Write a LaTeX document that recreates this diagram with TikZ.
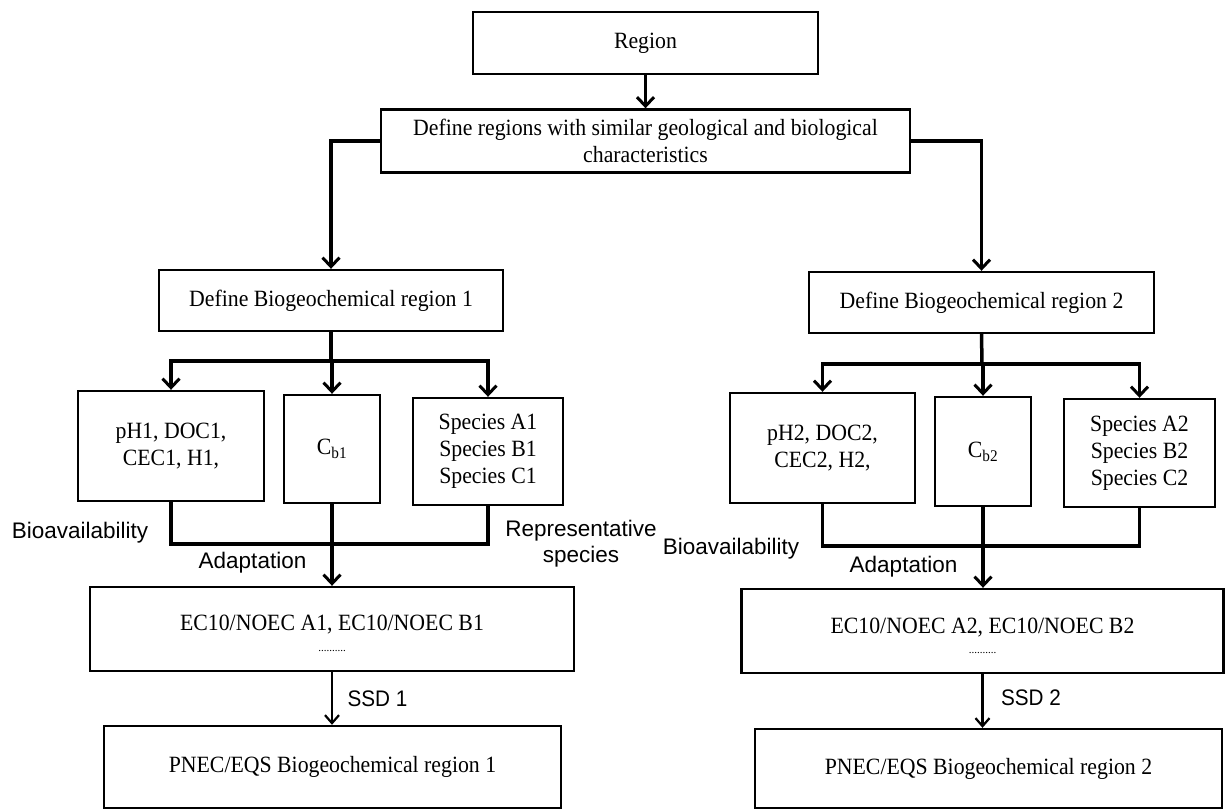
\documentclass[tikz,border=0pt]{standalone}
\usepackage{fontspec}
\setmainfont{Liberation Serif}
\setsansfont{Liberation Sans}
\newfontfamily\boxfont[FakeStretch=0.935]{Liberation Serif}
\newfontfamily\ssdfont[FakeStretch=0.92]{Liberation Sans}
\usetikzlibrary{arrows.meta}
\begin{document}
\begin{tikzpicture}[x=1pt,y=-1pt,
  box/.style={draw, line width=2.4pt, inner sep=0pt, align=center, font=\boxfont\fontsize{23.3}{27}\selectfont},
  conn/.style={line width=3.5pt},
  arr/.style={conn, -{Straight Barb[length=9pt,width=17pt,line width=3pt]}},
  thinarr/.style={line width=2.2pt, -{Straight Barb[length=8pt,width=14pt,line width=2.2pt]}},
  lab/.style={font=\sffamily\fontsize{22.5}{26}\selectfont, align=center, inner sep=0pt},
  ssdlab/.style={font=\ssdfont\fontsize{22.5}{26}\selectfont, inner sep=0pt},
  txt/.style={font=\boxfont\fontsize{23.3}{27}\selectfont, inner sep=0pt},
  dotsl/.style={font=\fontsize{11}{11}\selectfont, inner sep=0pt}]
\useasboundingbox (0,0) rectangle (1226,809);

% boxes
\node[box, minimum width=345, minimum height=62] (region) at (645.5,43) {Region};
\node[box, minimum width=529, minimum height=63] (define) at (645.5,141) {Define regions with similar geological and biological\\characteristics};
\node[box, minimum width=344, minimum height=61] (bio1) at (331,300.5) {Define Biogeochemical region 1};
\node[box, minimum width=345, minimum height=61] (bio2) at (981.5,302.5) {Define Biogeochemical region 2};

\node[box, minimum width=186, minimum height=110] (ph1) at (171,446) {pH1, DOC1,\\CEC1, H1,};
\node[box, minimum width=96, minimum height=108] (cb1) at (332,449) {C\textsubscript{b1}};
\node[box, minimum width=150, minimum height=107] (sp1) at (488,451.5) {Species A1\\Species B1\\Species C1};

\node[box, minimum width=185, minimum height=110] (ph2) at (822.5,448) {pH2, DOC2,\\CEC2, H2,};
\node[box, minimum width=96, minimum height=109] (cb2) at (983,451.5) {C\textsubscript{b2}};
\node[box, minimum width=151, minimum height=108] (sp2) at (1139.5,453) {Species A2\\Species B2\\Species C2};

\node[box, minimum width=484, minimum height=84] (ec1) at (332,629) {};
\node[txt] (ec1t) at (332,625) {EC10/NOEC A1, EC10/NOEC B1};
\node[dotsl] (ec1d) at (332,651) {..........};
\node[box, minimum width=482, minimum height=84] (ec2) at (982.5,631) {};
\node[txt] (ec2t) at (982.5,628) {EC10/NOEC A2, EC10/NOEC B2};
\node[dotsl] (ec2d) at (982.5,653) {..........};

\node[box, minimum width=457, minimum height=82] (pnec1) at (332.5,767) {PNEC/EQS Biogeochemical region 1};
\node[box, minimum width=467, minimum height=79] (pnec2) at (988.5,768.5) {PNEC/EQS Biogeochemical region 2};

% connectors top
\draw[arr] (region.south) -- (define.north);
\draw[arr] (define.west) -| (bio1.north);
\draw[arr] (define.east) -| (bio2.north);

% left cluster
\coordinate (s1) at (331,361);
\draw[conn] (bio1.south) -- (s1);
\draw[arr] (s1) -| (ph1.north);
\draw[arr] (s1) -| (sp1.north);
\draw[arr] (s1) -| (cb1.north);
\coordinate (m1) at (332,544);
\draw[conn] (ph1.south) |- (m1) -| (sp1.south);
\draw[arr] (cb1.south) -- (ec1.north);

% right cluster
\coordinate (s2) at (982,364);
\draw[conn] (bio2.south) -- (s2);
\draw[arr] (s2) -| (ph2.north);
\draw[arr] (s2) -| (sp2.north);
\draw[arr] (s2) -| (cb2.north);
\coordinate (m2) at (983,546);
\draw[conn] (ph2.south) |- (m2) -| (sp2.south);
\draw[arr] (cb2.south) -- (ec2.north -| cb2.south);

% SSD
\draw[thinarr] (ec1.south) -- (pnec1.north -| ec1.south);
\draw[thinarr] (ec2.south) -- (pnec2.north -| ec2.south);

% labels
\node[lab] (bioav1) at (80,533) {Bioavailability};
\node[lab] (adapt1) at (252.5,563) {Adaptation};
\node[lab] (repr) at (581,544) {Representative\\species};
\node[lab] (bioav2) at (731,549) {Bioavailability};
\node[lab] (adapt2) at (903.5,567) {Adaptation};
\node[ssdlab] (ssd1) at (377.5,699) {SSD 1};
\node[ssdlab] (ssd2) at (1031,698) {SSD 2};
\end{tikzpicture}
\end{document}
